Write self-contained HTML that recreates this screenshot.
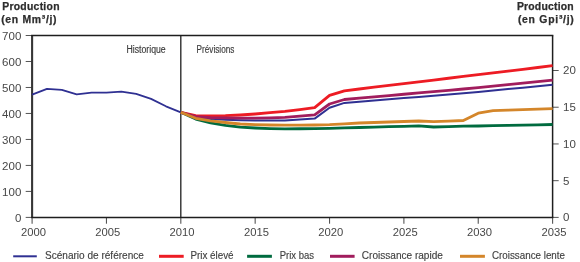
<!DOCTYPE html>
<html><head><meta charset="utf-8"><style>
html,body{margin:0;padding:0;background:#fff;width:580px;height:262px;overflow:hidden}
svg{display:block;will-change:transform}
text{font-family:"Liberation Sans",sans-serif;fill:#3a3a3a}
.t{font-size:11.5px;fill:#474747}
.s{font-size:10px;stroke:#3a3a3a;stroke-width:0.15px}
.l{font-size:11px;fill:#404040;stroke:#404040;stroke-width:0.15px}
.b{font-size:10.4px;font-weight:bold;fill:#2d2d2d;stroke:#2d2d2d;stroke-width:0.25px}
</style></head><body>
<svg width="580" height="262" viewBox="0 0 580 262">
<line x1="25.7" y1="217.40" x2="32.1" y2="217.40" stroke="#555555" stroke-width="1"/>
<text x="21.3" y="221.80" text-anchor="end" class="t">0</text>
<line x1="25.7" y1="191.41" x2="32.1" y2="191.41" stroke="#555555" stroke-width="1"/>
<text x="21.3" y="195.81" text-anchor="end" class="t">100</text>
<line x1="25.7" y1="165.43" x2="32.1" y2="165.43" stroke="#555555" stroke-width="1"/>
<text x="21.3" y="169.83" text-anchor="end" class="t">200</text>
<line x1="25.7" y1="139.44" x2="32.1" y2="139.44" stroke="#555555" stroke-width="1"/>
<text x="21.3" y="143.84" text-anchor="end" class="t">300</text>
<line x1="25.7" y1="113.46" x2="32.1" y2="113.46" stroke="#555555" stroke-width="1"/>
<text x="21.3" y="117.86" text-anchor="end" class="t">400</text>
<line x1="25.7" y1="87.47" x2="32.1" y2="87.47" stroke="#555555" stroke-width="1"/>
<text x="21.3" y="91.87" text-anchor="end" class="t">500</text>
<line x1="25.7" y1="61.49" x2="32.1" y2="61.49" stroke="#555555" stroke-width="1"/>
<text x="21.3" y="65.89" text-anchor="end" class="t">600</text>
<line x1="25.7" y1="35.50" x2="32.1" y2="35.50" stroke="#555555" stroke-width="1"/>
<text x="21.3" y="39.90" text-anchor="end" class="t">700</text>
<line x1="552.6" y1="217.40" x2="558.7" y2="217.40" stroke="#555555" stroke-width="1"/>
<text x="563" y="221.30" class="t">0</text>
<line x1="552.6" y1="180.68" x2="558.7" y2="180.68" stroke="#555555" stroke-width="1"/>
<text x="563" y="184.58" class="t">5</text>
<line x1="552.6" y1="143.95" x2="558.7" y2="143.95" stroke="#555555" stroke-width="1"/>
<text x="563" y="147.85" class="t">10</text>
<line x1="552.6" y1="107.22" x2="558.7" y2="107.22" stroke="#555555" stroke-width="1"/>
<text x="563" y="111.12" class="t">15</text>
<line x1="552.6" y1="70.50" x2="558.7" y2="70.50" stroke="#555555" stroke-width="1"/>
<text x="563" y="74.40" class="t">20</text>
<line x1="32.10" y1="217.4" x2="32.10" y2="223.7" stroke="#555555" stroke-width="1.1"/>
<text x="33.40" y="236.3" text-anchor="middle" class="t" textLength="25" lengthAdjust="spacingAndGlyphs">2000</text>
<line x1="106.46" y1="217.4" x2="106.46" y2="223.7" stroke="#555555" stroke-width="1.1"/>
<text x="107.76" y="236.3" text-anchor="middle" class="t" textLength="25" lengthAdjust="spacingAndGlyphs">2005</text>
<line x1="180.81" y1="217.4" x2="180.81" y2="223.7" stroke="#555555" stroke-width="1.1"/>
<text x="182.11" y="236.3" text-anchor="middle" class="t" textLength="25" lengthAdjust="spacingAndGlyphs">2010</text>
<line x1="255.17" y1="217.4" x2="255.17" y2="223.7" stroke="#555555" stroke-width="1.1"/>
<text x="256.47" y="236.3" text-anchor="middle" class="t" textLength="25" lengthAdjust="spacingAndGlyphs">2015</text>
<line x1="329.53" y1="217.4" x2="329.53" y2="223.7" stroke="#555555" stroke-width="1.1"/>
<text x="330.83" y="236.3" text-anchor="middle" class="t" textLength="25" lengthAdjust="spacingAndGlyphs">2020</text>
<line x1="403.89" y1="217.4" x2="403.89" y2="223.7" stroke="#555555" stroke-width="1.1"/>
<text x="405.19" y="236.3" text-anchor="middle" class="t" textLength="25" lengthAdjust="spacingAndGlyphs">2025</text>
<line x1="478.24" y1="217.4" x2="478.24" y2="223.7" stroke="#555555" stroke-width="1.1"/>
<text x="479.54" y="236.3" text-anchor="middle" class="t" textLength="25" lengthAdjust="spacingAndGlyphs">2030</text>
<line x1="552.60" y1="217.4" x2="552.60" y2="223.7" stroke="#555555" stroke-width="1.1"/>
<text x="553.90" y="236.3" text-anchor="middle" class="t" textLength="25" lengthAdjust="spacingAndGlyphs">2035</text>
<line x1="32.1" y1="35.5" x2="32.1" y2="217.4" stroke="#363636" stroke-width="2.1"/>
<line x1="552.6" y1="35.5" x2="552.6" y2="217.4" stroke="#1e1e1e" stroke-width="1.5"/>
<line x1="31.1" y1="35.5" x2="553.35" y2="35.5" stroke="#1e1e1e" stroke-width="1.5"/>
<line x1="31.1" y1="217.4" x2="553.35" y2="217.4" stroke="#1e1e1e" stroke-width="1.5"/>
<line x1="180.81" y1="35.5" x2="180.81" y2="217.4" stroke="#1e1e1e" stroke-width="1.3"/>
<text x="126.5" y="52.8" class="s" textLength="39.2" lengthAdjust="spacingAndGlyphs">Historique</text>
<text x="196.6" y="52.8" class="s" textLength="37.8" lengthAdjust="spacingAndGlyphs">Prévisions</text>
<path d="M32.10,94.60 L46.97,88.80 L61.84,89.90 L76.71,94.30 L91.59,92.60 L106.46,92.60 L121.33,91.70 L136.20,93.80 L151.07,98.90 L165.94,106.30 L180.81,112.30" fill="none" stroke="#2f3092" stroke-width="1.8" stroke-linejoin="round"/>
<path d="M180.81,112.30 L195.69,117.50 L210.56,119.00 L225.43,119.70 L240.30,120.30 L255.17,120.60 L270.04,120.55 L284.91,120.50 L299.79,119.55 L314.66,118.60 L329.53,107.70 L344.40,102.90 L359.27,101.70 L374.14,100.50 L389.01,99.30 L403.89,98.10 L418.76,96.90 L433.63,95.70 L448.50,94.50 L463.37,93.30 L478.24,91.88 L493.11,90.47 L507.99,89.05 L522.86,87.63 L537.73,86.22 L552.60,84.80" fill="none" stroke="#2f3092" stroke-width="2" stroke-linejoin="round"/>
<path d="M180.81,112.30 L195.69,115.70 L210.56,116.00 L225.43,115.70 L240.30,115.00 L255.17,114.00 L270.04,112.70 L284.91,111.40 L299.79,109.55 L314.66,107.70 L329.53,95.40 L344.40,90.80 L359.27,89.01 L374.14,87.21 L389.01,85.42 L403.89,83.63 L418.76,81.84 L433.63,80.04 L448.50,78.25 L463.37,76.46 L478.24,74.66 L493.11,72.87 L507.99,71.08 L522.86,69.29 L537.73,67.49 L552.60,65.70" fill="none" stroke="#ed1c24" stroke-width="2.8" stroke-linejoin="round"/>
<path d="M180.81,112.30 L195.69,119.10 L210.56,122.80 L225.43,125.30 L240.30,127.20 L255.17,128.00 L270.04,128.60 L284.91,128.90 L299.79,128.75 L314.66,128.60 L329.53,128.30 L344.40,127.90 L359.27,127.50 L374.14,127.10 L389.01,126.70 L403.89,126.30 L418.76,125.90 L433.63,127.00 L448.50,126.60 L463.37,126.20 L478.24,126.00 L493.11,125.70 L507.99,125.40 L522.86,125.10 L537.73,124.80 L552.60,124.50" fill="none" stroke="#006b3f" stroke-width="2.8" stroke-linejoin="round"/>
<path d="M180.81,112.30 L195.69,116.60 L210.56,117.60 L225.43,117.90 L240.30,118.05 L255.17,118.20 L270.04,117.80 L284.91,117.40 L299.79,116.10 L314.66,114.80 L329.53,104.00 L344.40,99.50 L359.27,98.19 L374.14,96.88 L389.01,95.56 L403.89,94.25 L418.76,92.94 L433.63,91.62 L448.50,90.31 L463.37,89.00 L478.24,87.53 L493.11,86.07 L507.99,84.60 L522.86,83.13 L537.73,81.67 L552.60,80.20" fill="none" stroke="#a11d5d" stroke-width="2.8" stroke-linejoin="round"/>
<path d="M180.81,112.30 L195.69,118.30 L210.56,120.90 L225.43,122.50 L240.30,124.00 L255.17,124.60 L270.04,125.00 L284.91,125.10 L299.79,125.05 L314.66,125.00 L329.53,124.70 L344.40,123.85 L359.27,123.00 L374.14,122.50 L389.01,122.00 L403.89,121.50 L418.76,121.00 L433.63,121.70 L448.50,121.10 L463.37,120.50 L478.24,113.20 L493.11,110.70 L507.99,110.17 L522.86,109.65 L537.73,109.12 L552.60,108.60" fill="none" stroke="#d4862a" stroke-width="2.8" stroke-linejoin="round"/>
<text x="2.2" y="9.5" class="b" textLength="57.3" lengthAdjust="spacing">Production</text>
<text x="1.2" y="22.7" class="b" textLength="55.3" lengthAdjust="spacing">(en Mm³/j)</text>
<text x="516.9" y="9.6" class="b" textLength="56.8" lengthAdjust="spacing">Production</text>
<text x="517.9" y="22.5" class="b" textLength="55.9" lengthAdjust="spacing">(en Gpi³/j)</text>
<line x1="13.2" y1="256.3" x2="36.8" y2="256.3" stroke="#2f3092" stroke-width="2"/>
<text x="45" y="259" class="l" textLength="98.9" lengthAdjust="spacingAndGlyphs">Scénario de référence</text>
<line x1="159" y1="256.3" x2="183.7" y2="256.3" stroke="#ed1c24" stroke-width="3"/>
<text x="190.4" y="259" class="l" textLength="43.2" lengthAdjust="spacingAndGlyphs">Prix élevé</text>
<line x1="247.1" y1="256.3" x2="271.9" y2="256.3" stroke="#006b3f" stroke-width="3"/>
<text x="279.7" y="259" class="l" textLength="34.3" lengthAdjust="spacingAndGlyphs">Prix bas</text>
<line x1="330" y1="256.3" x2="354.6" y2="256.3" stroke="#a11d5d" stroke-width="3"/>
<text x="361.8" y="259" class="l" textLength="81.1" lengthAdjust="spacingAndGlyphs">Croissance rapide</text>
<line x1="460" y1="256.3" x2="484.9" y2="256.3" stroke="#d4862a" stroke-width="3"/>
<text x="492" y="259" class="l" textLength="73" lengthAdjust="spacingAndGlyphs">Croissance lente</text>
</svg>
</body></html>
